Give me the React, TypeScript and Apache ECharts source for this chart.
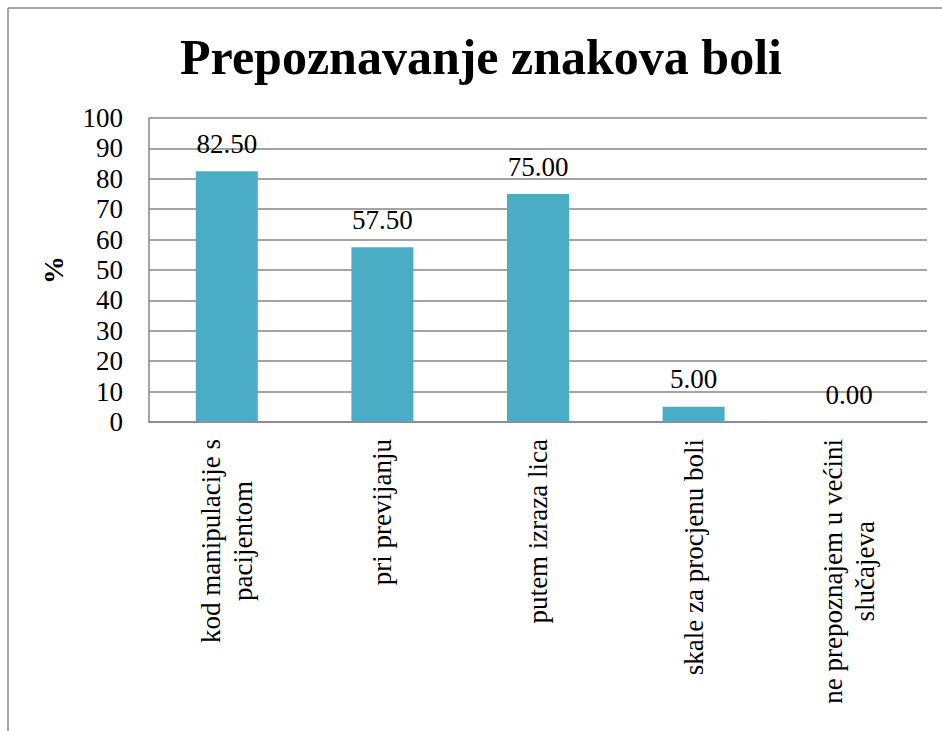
import React, { useEffect, useRef } from "react";
import * as echarts from "echarts";

const titleText = "Prepoznavanje znakova boli";
const categories = [
  "kod manipulacije s\npacijentom",
  "pri previjanju",
  "putem izraza lica",
  "skale za procjenu boli",
  "ne prepoznajem u većini\nslučajeva",
];
const values = [82.5, 57.5, 75.0, 5.0, 0.0];
const yMin = 0;
const yMax = 100;
const yStep = 10;
const yName = "%";

const SERIF = "'Liberation Serif', 'Times New Roman', serif";

export default function App() {
  const ref = useRef<HTMLDivElement>(null);
  useEffect(() => {
    if (!ref.current) return;
    const chart = echarts.init(ref.current, null, { renderer: "svg" });
    chart.setOption({
      animation: false,
      backgroundColor: "#ffffff",
      title: {
        text: titleText,
        left: 476,
        top: 27,
        textAlign: "center",
        textStyle: {
          fontFamily: SERIF,
          fontWeight: "bold",
          fontSize: 50,
          color: "#000000",
        },
      },
      graphic: [
        {
          type: "line",
          shape: { x1: 8, y1: 8, x2: 8, y2: 740 },
          style: { stroke: "#8a8a8a", lineWidth: 1.5 },
        },
        {
          type: "line",
          shape: { x1: 8, y1: 8, x2: 950, y2: 8 },
          style: { stroke: "#8a8a8a", lineWidth: 1.5 },
        },
      ],
      grid: { left: 149, right: 15, top: 118, bottom: 309, containLabel: false },
      xAxis: {
        type: "category",
        data: categories,
        axisLine: { show: true, lineStyle: { color: "#868686", width: 1.5 } },
        axisTick: { show: false },
        axisLabel: {
          interval: 0,
          rotate: 90,
          margin: 17,
          color: "#000000",
          fontFamily: SERIF,
          fontSize: 27,
          formatter: (v: string) =>
            v
              .split("\n")
              .map((l) => `{c|${l}}`)
              .join("\n"),
          rich: {
            c: {
              align: "center",
              fontFamily: SERIF,
              fontSize: 27,
              color: "#000000",
              lineHeight: 32,
            },
          },
        },
      },
      yAxis: {
        type: "value",
        min: yMin,
        max: yMax,
        interval: yStep,
        name: yName,
        nameLocation: "middle",
        nameRotate: 90,
        nameGap: 82,
        nameTextStyle: {
          fontFamily: SERIF,
          fontWeight: "bold",
          fontSize: 28,
          color: "#000000",
        },
        axisLine: { show: true, lineStyle: { color: "#868686", width: 1.5 } },
        axisTick: { show: false },
        axisLabel: {
          margin: 26,
          color: "#000000",
          fontFamily: SERIF,
          fontSize: 27,
        },
        splitLine: { show: true, lineStyle: { color: "#868686", width: 1.5 } },
      },
      series: [
        {
          type: "bar",
          data: values,
          barWidth: 62,
          itemStyle: { color: "#4BACC6" },
          label: {
            show: true,
            position: "top",
            distance: 14,
            color: "#000000",
            fontFamily: SERIF,
            fontSize: 27,
            formatter: (p: any) => Number(p.value).toFixed(2),
          },
        },
      ],
    });
    return () => chart.dispose();
  }, []);
  return (
    <div
      ref={ref}
      style={{ position: "fixed", left: 0, top: 0, width: 942, height: 731 }}
    />
  );
}
